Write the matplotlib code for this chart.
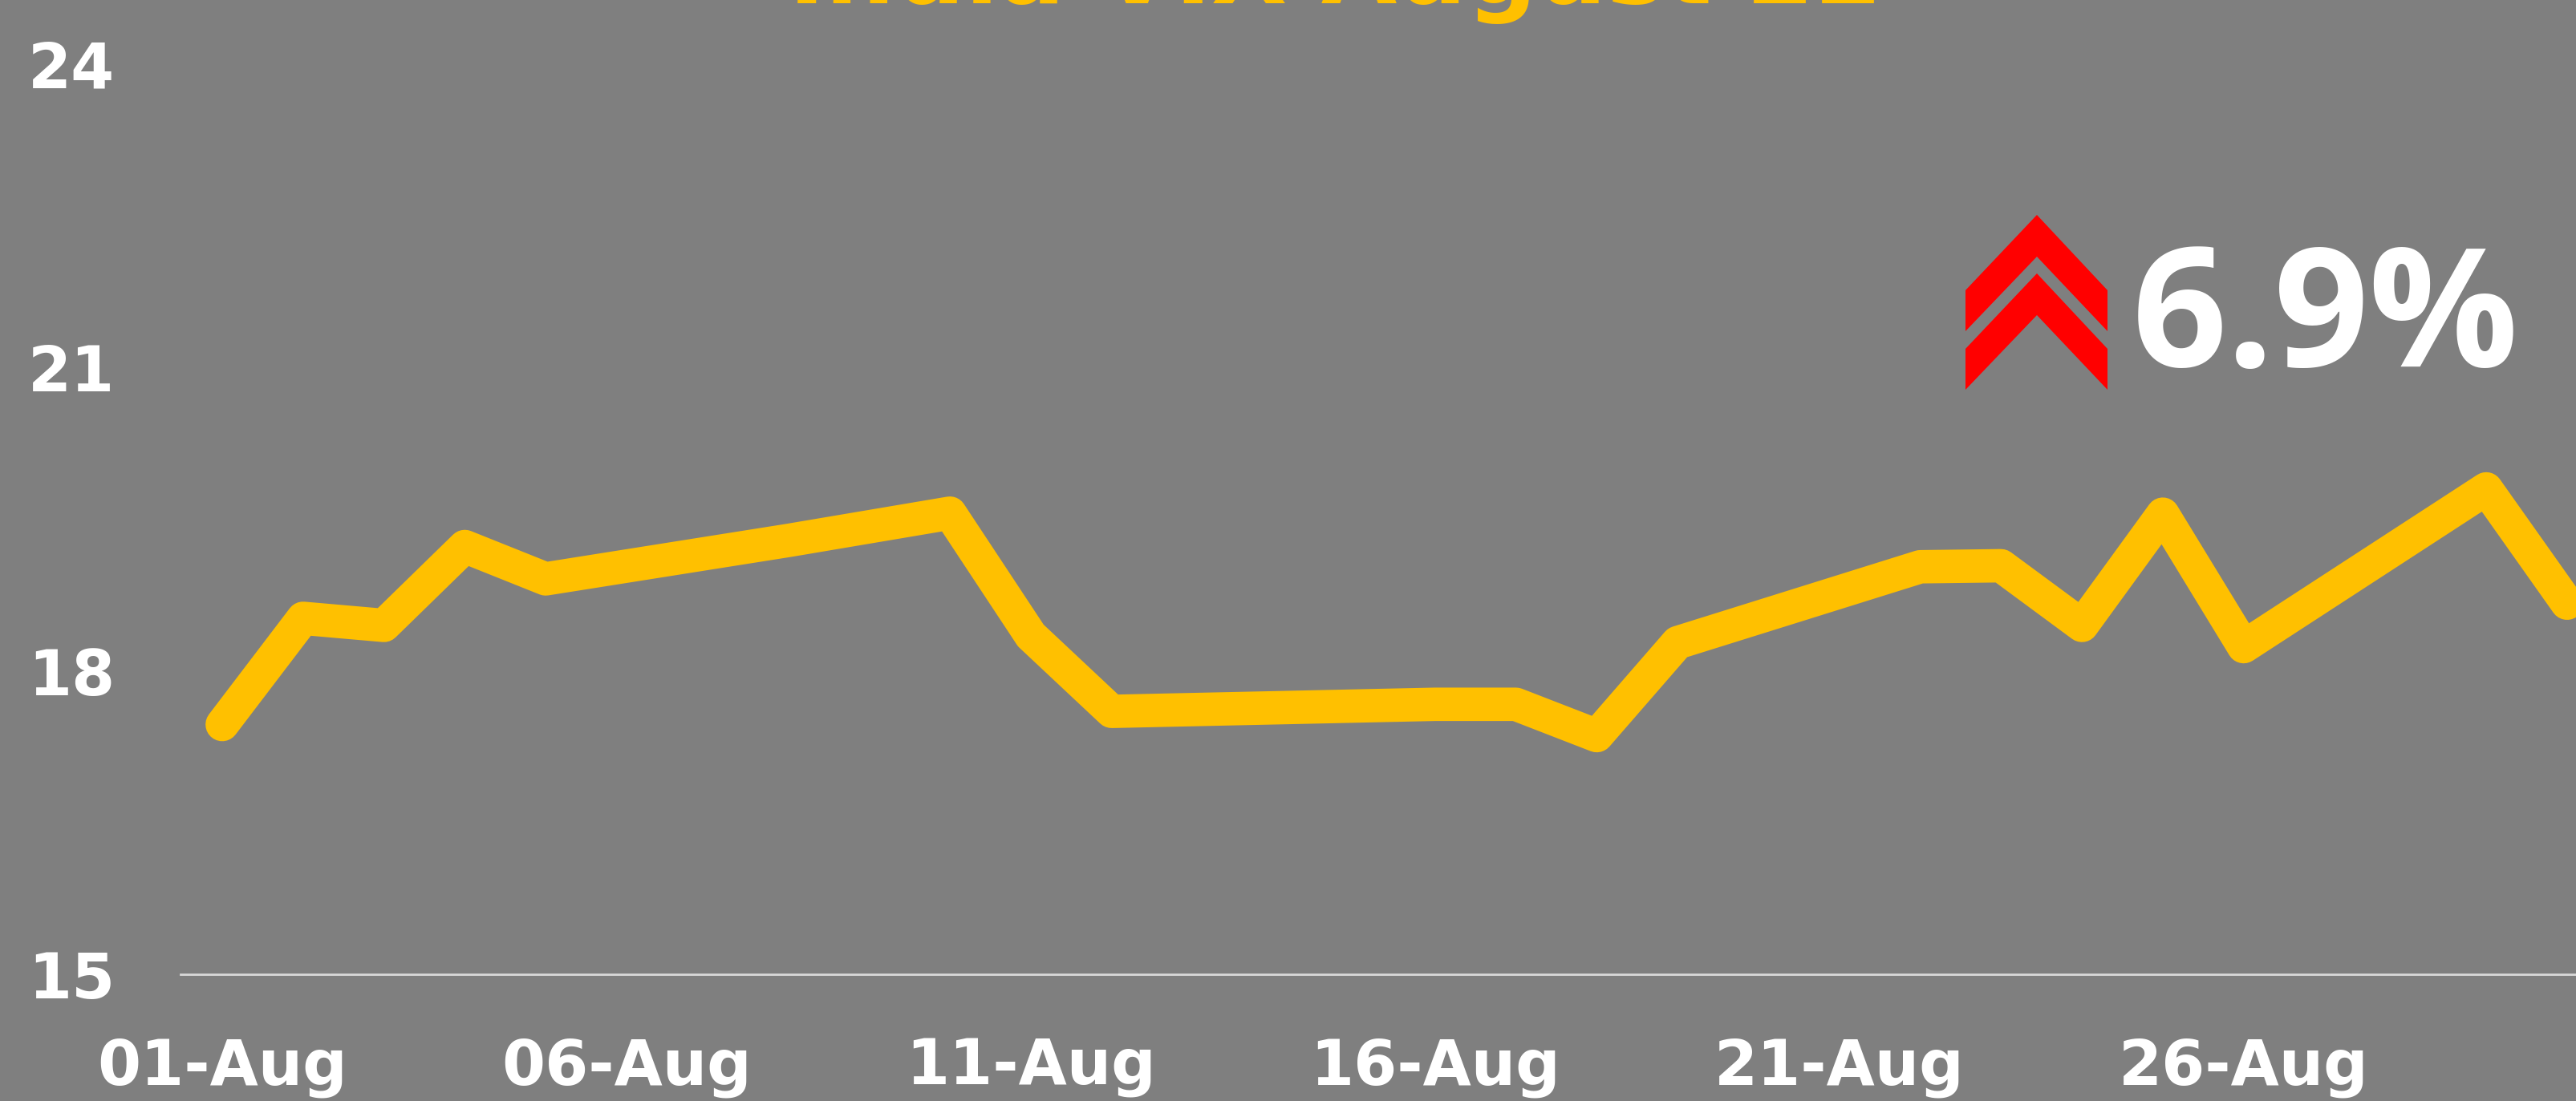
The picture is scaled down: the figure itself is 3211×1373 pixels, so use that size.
import matplotlib
matplotlib.use("Agg")
import matplotlib.pyplot as plt
import matplotlib.dates as mdates
from matplotlib.patches import Polygon
import pandas as pd

# India VIX daily closes, August 2022 (trading days only)
dates = ["2022-08-01", "2022-08-02", "2022-08-03", "2022-08-04", "2022-08-05",
         "2022-08-08", "2022-08-10", "2022-08-11", "2022-08-12", "2022-08-16",
         "2022-08-17", "2022-08-18", "2022-08-19", "2022-08-22", "2022-08-23",
         "2022-08-24", "2022-08-25", "2022-08-26", "2022-08-29", "2022-08-30"]
vix = [17.47, 18.52, 18.45, 19.23, 18.91,
       19.29, 19.56, 18.35, 17.60, 17.67,
       17.67, 17.36, 18.28, 19.03, 19.04,
       18.45, 19.55, 18.24, 19.80, 18.67]
y_ticks = [15, 18, 21, 24]
x_tick_days = [1, 6, 11, 16, 21, 26]
title = "India VIX August 22"

BG = "#7F7F7F"
GOLD = "#FFC000"
W, H = 3212, 1373

x = pd.to_datetime(dates)
change = (vix[-1] / vix[0] - 1) * 100

fig = plt.figure(figsize=(W / 100, H / 100), dpi=100, facecolor=BG)
ax = fig.add_axes([225 / W, 1 - 1215 / H, 1 - 225 / W, (1215 - 80) / H])
ax.set_facecolor(BG)

ax.plot(x, vix, color=GOLD, lw=30, solid_joinstyle="round", solid_capstyle="round")

ax.set_ylim(15, 24)
ax.set_xlim(mdates.date2num(x[0]) - 0.516, mdates.date2num(x[-1]) + 0.12)
ax.set_yticks(y_ticks)
ax.xaxis.set_major_locator(mdates.DayLocator(bymonthday=x_tick_days))
ax.xaxis.set_major_formatter(mdates.DateFormatter("%d-%b"))

for s in ["top", "right", "left"]:
    ax.spines[s].set_visible(False)
ax.spines["bottom"].set_color("#D9D9D9")
ax.spines["bottom"].set_linewidth(2)

ax.tick_params(axis="both", length=0, colors="white", labelsize=56)
ax.tick_params(axis="y", pad=59)
ax.tick_params(axis="x", pad=56)
for lab in ax.get_xticklabels() + ax.get_yticklabels():
    lab.set_fontweight("bold")

# title sits mostly above the top edge
fig.text(1665 / W, 1 - 4 / H, title, color=GOLD, fontsize=88, fontweight="bold",
         ha="center", va="baseline")

# double red chevron next to the monthly change
def px(pts):
    return [(a / W, 1 - b / H) for a, b in pts]

for dy in (0, 73):
    chev = [(2450, 413 + dy), (2450, 362 + dy), (2539, 268 + dy),
            (2627, 362 + dy), (2627, 413 + dy), (2539, 320 + dy)]
    fig.patches.append(Polygon(px(chev), closed=True, facecolor="#FF0000",
                               edgecolor="none", transform=fig.transFigure))

fig.text(2658 / W, 1 - 457 / H, f"{change:.1f}%", color="white", fontsize=149,
         fontweight="bold", family=["Open Sans", "DejaVu Sans"], ha="left", va="baseline")

fig.savefig("out.png", dpi=100, facecolor=BG)
